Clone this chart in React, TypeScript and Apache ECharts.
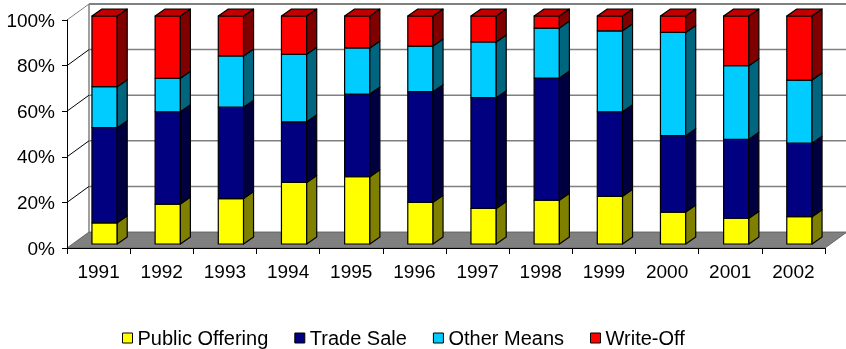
import React, { useEffect, useRef } from "react";
import * as echarts from "echarts";

const years = ["1991", "1992", "1993", "1994", "1995", "1996", "1997", "1998", "1999", "2000", "2001", "2002"];
const publicOffering = [9.3, 17.5, 19.9, 27, 29.5, 18.3, 15.6, 19.2, 20.9, 14, 11.3, 12];
const tradeSale = [41.7, 40.5, 40.1, 26.6, 36.3, 48.5, 48.6, 53.6, 37.1, 33.5, 34.6, 32.2];
const otherMeans = [18, 14.7, 22.5, 29.6, 20.2, 20, 24.4, 21.9, 35.5, 45.3, 32.3, 27.7];
const writeOff = [31, 27.3, 17.5, 16.8, 14, 13.2, 11.4, 5.3, 6.5, 7.2, 21.8, 28.1];
const yTicks = [0, 20, 40, 60, 80, 100];

const seriesDefs = [
  { name: "Public Offering", values: publicOffering, front: "#FFFF00", side: "#808000", top: "#C0C000" },
  { name: "Trade Sale", values: tradeSale, front: "#000080", side: "#000040", top: "#000060" },
  { name: "Other Means", values: otherMeans, front: "#00CCFF", side: "#006680", top: "#0099C0" },
  { name: "Write-Off", values: writeOff, front: "#FF0000", side: "#800000", top: "#C00000" },
];

const FONT = "'Liberation Sans', Arial, sans-serif";

export default function App() {
  const ref = useRef<HTMLDivElement>(null);
  useEffect(() => {
    if (!ref.current) return;
    const chart = echarts.init(ref.current, null, { renderer: "svg" });
    const wallDx = 22, wallDy = -16;
    const fx = 6, fy = -4, sx = 10, sy = -7;

    const bases: number[][] = [];
    const running = years.map(() => 0);
    seriesDefs.forEach((s, si) => {
      bases[si] = running.slice();
      s.values.forEach((v, i) => (running[i] += v));
    });

    const wallSeries: any = {
      type: "custom",
      name: "walls",
      z: 1,
      silent: true,
      encode: { x: 0, y: 1 },
      data: yTicks.map((v) => [0, v]),
      renderItem: (params: any, api: any) => {
        const v = api.value(1);
        const band = api.size([1, 0])[0];
        const pL = api.coord([0, v]);
        const pR = api.coord([years.length - 1, v]);
        const xL = pL[0] - band / 2;
        const xR = pR[0] + band / 2;
        const y = pL[1];
        const children: any[] = [];
        if (v === 0) {
          const yTop = api.coord([0, 100])[1];
          children.push({
            type: "polygon",
            shape: { points: [[xL, y], [xR, y], [xR + wallDx, y + wallDy], [xL + wallDx, y + wallDy]] },
            style: { fill: "#808080", stroke: "#555", lineWidth: 0.8 },
          });
          children.push({
            type: "line",
            shape: { x1: xL + wallDx, y1: y + wallDy, x2: xL + wallDx, y2: yTop + wallDy },
            style: { stroke: "#808080", lineWidth: 1.5 },
          });
        } else {
          children.push({
            type: "line",
            shape: { x1: xL + wallDx, y1: y + wallDy, x2: xR + wallDx + 10, y2: y + wallDy },
            style: { stroke: "#808080", lineWidth: v === 100 ? 2 : 1.5 },
          });
          children.push({
            type: "line",
            shape: { x1: xL, y1: y, x2: xL + wallDx, y2: y + wallDy },
            style: { stroke: v === 100 ? "#808080" : "#000", lineWidth: 1 },
          });
        }
        return { type: "group", children };
      },
    };

    const barSeries = seriesDefs.map((s, si) => ({
      type: "custom",
      name: s.name,
      z: 2,
      encode: { x: 0, y: [1, 2] },
      itemStyle: { color: s.front, borderColor: "#000", borderWidth: 1 },
      data: s.values.map((v, i) => [i, bases[si][i], bases[si][i] + v]),
      renderItem: (params: any, api: any) => {
        const i = api.value(0);
        const b = api.value(1);
        const t = api.value(2);
        const pb = api.coord([i, b]);
        const pt = api.coord([i, t]);
        const band = api.size([1, 0])[0];
        const w = band * 0.4;
        const x0 = pb[0] + fx - w / 2;
        const x1 = x0 + w;
        const yb = pb[1] + fy;
        const yt = pt[1] + fy;
        const stroke = { stroke: "#000", lineWidth: 1.2, lineJoin: "round" };
        const children: any[] = [
          {
            type: "polygon",
            shape: { points: [[x0, yb], [x1, yb], [x1, yt], [x0, yt]] },
            style: { fill: s.front, ...stroke },
          },
          {
            type: "polygon",
            shape: { points: [[x1, yb], [x1 + sx, yb + sy], [x1 + sx, yt + sy], [x1, yt]] },
            style: { fill: s.side, ...stroke },
          },
        ];
        if (si === seriesDefs.length - 1) {
          children.push({
            type: "polygon",
            shape: { points: [[x0, yt], [x1, yt], [x1 + sx, yt + sy], [x0 + sx, yt + sy]] },
            style: { fill: s.top, ...stroke },
          });
        }
        return { type: "group", children };
      },
    }));

    chart.setOption({
      animation: false,
      grid: { left: 67, top: 20, width: 758, height: 228, containLabel: false },
      xAxis: {
        type: "category",
        data: years,
        z: 5,
        boundaryGap: true,
        axisLine: { lineStyle: { color: "#000", width: 1 } },
        axisTick: { show: true, length: 6, lineStyle: { color: "#000" } },
        axisLabel: { color: "#000", fontSize: 19, fontFamily: FONT, margin: 14 },
        splitLine: { show: false },
      },
      yAxis: {
        type: "value",
        min: 0,
        max: 100,
        interval: 20,
        z: 5,
        axisLine: { show: true, lineStyle: { color: "#000", width: 1 } },
        axisTick: { show: true, length: 5, lineStyle: { color: "#000" } },
        axisLabel: { color: "#000", fontSize: 19, fontFamily: FONT, margin: 12, formatter: "{value}%" },
        splitLine: { show: false },
      },
      legend: {
        left: 122,
        top: 328,
        padding: 0,
        itemGap: 26,
        itemWidth: 10,
        itemHeight: 10,
        icon: "rect",
        itemStyle: { borderColor: "#000", borderWidth: 1 },
        textStyle: { color: "#000", fontSize: 20, fontFamily: FONT },
        data: seriesDefs.map((s) => s.name),
      },
      series: [wallSeries, ...barSeries],
    });
    return () => chart.dispose();
  }, []);
  return <div ref={ref} style={{ position: "fixed", left: 0, top: 0, width: 846, height: 349 }} />;
}
